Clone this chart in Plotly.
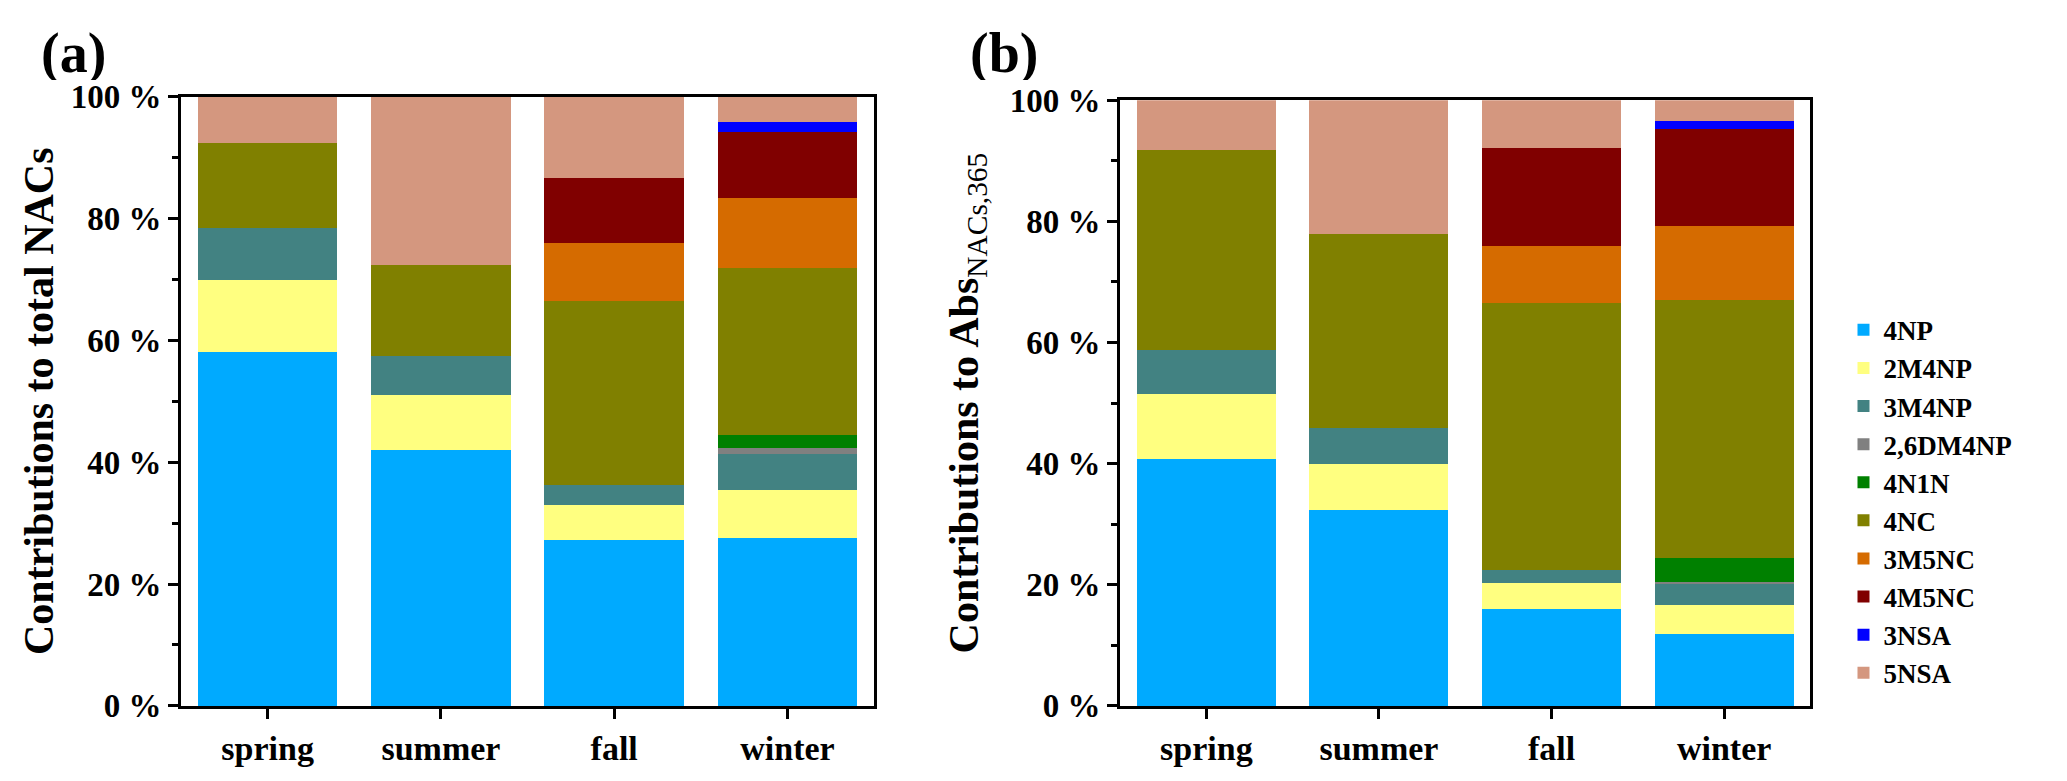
import plotly.graph_objects as go

seasons = ["spring", "summer", "fall", "winter"]
compounds = ["4NP", "2M4NP", "3M4NP", "2,6DM4NP", "4N1N", "4NC", "3M5NC", "4M5NC", "3NSA", "5NSA"]
colors = ["#00AAFF", "#FFFF80", "#428282", "#808080", "#008000",
          "#808000", "#D56B00", "#800000", "#0000FF", "#D4977F"]
y_ticks = [0, 20, 40, 60, 80, 100]
y_ticklabels = ["0 %", "20 %", "40 %", "60 %", "80 %", "100 %"]

# (a) contributions to total NACs, %
nacs_4NP = [58.0, 42.0, 27.2, 27.5]
nacs_2M4NP = [11.9, 9.0, 5.8, 7.9]
nacs_3M4NP = [8.5, 6.4, 3.2, 6.0]
nacs_26DM4NP = [0, 0, 0, 1.0]
nacs_4N1N = [0, 0, 0, 2.0]
nacs_4NC = [14.0, 14.9, 30.2, 27.5]
nacs_3M5NC = [0, 0, 9.6, 11.4]
nacs_4M5NC = [0, 0, 10.6, 10.9]
nacs_3NSA = [0, 0, 0, 1.6]
nacs_5NSA = [7.6, 27.7, 13.4, 4.2]

# (b) contributions to Abs_NACs,365, %
abs_4NP = [40.7, 32.4, 16.0, 11.9]
abs_2M4NP = [10.8, 7.6, 4.3, 4.7]
abs_3M4NP = [7.3, 5.9, 2.2, 3.5]
abs_26DM4NP = [0, 0, 0, 0.3]
abs_4N1N = [0, 0, 0, 4.1]
abs_4NC = [33.0, 32.0, 44.0, 42.5]
abs_3M5NC = [0, 0, 9.5, 12.3]
abs_4M5NC = [0, 0, 16.1, 15.9]
abs_3NSA = [0, 0, 0, 1.3]
abs_5NSA = [8.2, 22.1, 7.9, 3.5]

panel_a = [nacs_4NP, nacs_2M4NP, nacs_3M4NP, nacs_26DM4NP, nacs_4N1N,
           nacs_4NC, nacs_3M5NC, nacs_4M5NC, nacs_3NSA, nacs_5NSA]
panel_b = [abs_4NP, abs_2M4NP, abs_3M4NP, abs_26DM4NP, abs_4N1N,
           abs_4NC, abs_3M5NC, abs_4M5NC, abs_3NSA, abs_5NSA]

FONT = "Times New Roman, Liberation Serif, serif"

fig = go.Figure()
for name, col, ya, yb in zip(compounds, colors, panel_a, panel_b):
    fig.add_trace(go.Bar(x=seasons, y=ya, name=name, marker_color=col,
                         marker_line_width=0, xaxis="x", yaxis="y"))
    fig.add_trace(go.Bar(x=seasons, y=yb, name=name, marker_color=col,
                         marker_line_width=0, xaxis="x2", yaxis="y2",
                         showlegend=False))

xax = dict(showline=True, linewidth=3, linecolor="black", mirror=True,
           ticks="outside", ticklen=10, tickwidth=3, tickcolor="black",
           range=[-0.5, 3.5],
           tickfont=dict(family=FONT, size=34, color="black", weight="bold"))
yax = dict(showline=True, linewidth=3, linecolor="black", mirror=True,
           range=[0, 100], tickvals=y_ticks, ticktext=y_ticklabels,
           ticks="outside", ticklen=10, tickwidth=3, tickcolor="black",
           showgrid=False, zeroline=False,
           minor=dict(tickvals=[10, 30, 50, 70, 90], ticks="outside",
                      ticklen=6, tickwidth=3, tickcolor="black"),
           tickfont=dict(family=FONT, size=33, color="black", weight="bold"))

panel_label = dict(y=1.0, xref="paper", yref="paper", xanchor="left", yanchor="top",
                   height=54, valign="middle", borderpad=0, showarrow=False,
                   font=dict(family=FONT, size=56, color="black", weight="bold"))

fig.update_layout(
    width=2067, height=781,
    margin=dict(l=0, r=0, t=0, b=0),
    plot_bgcolor="white", paper_bgcolor="white",
    barmode="stack", bargap=0.195,
    xaxis=dict(xax, domain=[0.0837, 0.419], anchor="y"),
    xaxis2=dict(xax, domain=[0.538, 0.872], anchor="y2"),
    yaxis=dict(yax, domain=[0.086, 0.904], anchor="x",
               title=dict(text="Contributions to total NACs", standoff=4,
                          font=dict(family=FONT, size=42, color="black", weight="bold"))),
    yaxis2=dict(yax, domain=[0.086, 0.899], anchor="x2",
                title=dict(text="Contributions to Abs<sub><span style='font-weight:normal'>NACs,365</span></sub>",
                           standoff=18,
                           font=dict(family=FONT, size=42, color="black", weight="bold"))),
    legend=dict(x=0.888, y=0.36, xanchor="left", yanchor="middle",
                traceorder="normal", tracegroupgap=0,
                font=dict(family=FONT, size=27, color="black", weight="bold")),
    annotations=[
        dict(panel_label, text="(a)", x=0.0155),
        dict(panel_label, text="(b)", x=0.465),
    ],
)

fig.write_html("out.html")
